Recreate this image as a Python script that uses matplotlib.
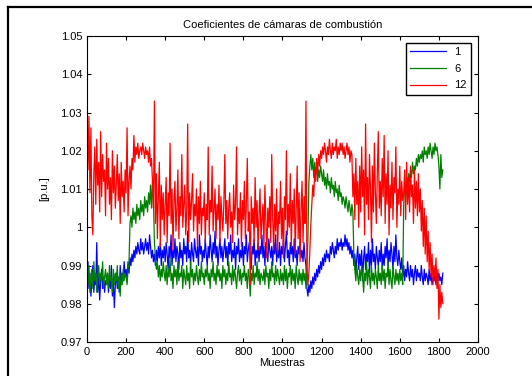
import matplotlib.pyplot as plt
from matplotlib.lines import Line2D
import numpy as np

plt.rcParams['font.family'] = ['Liberation Sans', 'DejaVu Sans']

# muestras (cada 5)
samples = np.arange(0, 1821, 5)

# Camara 1
cam1 = [
    0.987, 0.991, 0.984, 0.988, 0.982, 0.986, 0.990, 0.983, 0.987, 0.985, 0.996, 0.983, 0.988, 0.981, 0.986, 0.989, 0.984, 0.987, 0.983, 0.986,
    0.985, 0.988, 0.983, 0.987, 0.984, 0.990, 0.982, 0.986, 0.979, 0.985, 0.988, 0.984, 0.987, 0.983, 0.990, 0.985, 0.988, 0.986, 0.991, 0.987,
    0.989, 0.986, 0.991, 0.988, 0.992, 0.990, 0.993, 0.991, 0.994, 0.992, 0.995, 0.993, 0.996, 0.994, 0.993, 0.997, 0.994, 0.996, 0.993, 0.995,
    0.997, 0.994, 0.996, 0.993, 0.998, 0.995, 0.992, 0.994, 0.991, 0.993, 0.990, 0.994, 0.991, 0.995, 0.992, 0.996, 0.990, 0.994, 0.992, 0.995,
    0.991, 0.996, 0.993, 0.989, 0.995, 0.992, 0.998, 0.990, 0.994, 0.992, 0.997, 0.991, 0.995, 0.993, 0.989, 0.996, 0.992, 0.994, 0.990, 0.997,
    0.993, 0.995, 0.991, 0.999, 0.992, 0.994, 0.990, 0.996, 0.993, 0.991, 0.997, 0.994, 0.992, 0.995, 0.990, 0.998, 0.993, 0.995, 0.991, 0.994,
    0.992, 0.997, 0.993, 0.990, 0.995, 0.992, 0.998, 0.994, 0.991, 0.996, 0.993, 0.999, 0.992, 0.995, 0.990, 0.994, 0.997, 0.992, 0.995, 0.991,
    0.994, 0.997, 0.992, 0.995, 0.990, 0.996, 0.993, 0.998, 0.991, 0.994, 0.992, 0.996, 0.989, 0.995, 0.993, 0.997, 0.991, 0.994, 0.992, 0.996,
    0.990, 0.995, 0.993, 0.998, 0.991, 0.994, 0.996, 0.992, 0.989, 0.995, 0.993, 0.997, 0.990, 0.994, 0.992, 0.996, 0.991, 0.995, 0.993, 0.998,
    0.992, 0.995, 0.990, 0.996, 0.993, 0.991, 0.997, 0.994, 0.992, 0.995, 0.990, 0.996, 0.993, 0.998, 0.991, 0.994, 0.992, 0.996, 0.990, 0.995,
    0.993, 0.997, 0.991, 0.995, 0.999, 0.992, 0.994, 0.990, 0.996, 0.993, 0.995, 0.991, 0.997, 0.992, 0.994, 0.990, 0.995, 0.993, 0.996, 0.992,
    0.994, 0.991, 0.996, 0.992, 0.990, 0.984, 0.982, 0.985, 0.983, 0.986, 0.984, 0.987, 0.985, 0.988, 0.986, 0.989, 0.987, 0.990, 0.988, 0.991,
    0.989, 0.992, 0.990, 0.993, 0.991, 0.994, 0.992, 0.993, 0.991, 0.995, 0.993, 0.996, 0.994, 0.992, 0.995, 0.993, 0.997, 0.994, 0.996, 0.995,
    0.997, 0.994, 0.996, 0.995, 0.998, 0.995, 0.997, 0.994, 0.996, 0.993, 0.995, 0.992, 0.994, 0.990, 0.993, 0.988, 0.992, 0.995, 0.989, 0.993,
    0.990, 0.994, 0.986, 0.992, 0.995, 0.989, 0.993, 0.991, 0.996, 0.988, 0.994, 0.990, 0.997, 0.991, 0.993, 0.989, 0.995, 0.992, 0.990, 0.994,
    0.991, 0.996, 0.989, 0.993, 0.990, 0.995, 0.992, 0.997, 0.990, 0.994, 0.991, 0.996, 0.993, 0.989, 0.995, 0.991, 0.998, 0.992, 0.990, 0.994,
    0.991, 0.989, 0.992, 0.987, 0.990, 0.986, 0.989, 0.987, 0.991, 0.988, 0.986, 0.990, 0.987, 0.989, 0.985, 0.988, 0.990, 0.986, 0.989, 0.987,
    0.988, 0.986, 0.990, 0.987, 0.985, 0.989, 0.986, 0.988, 0.987, 0.985, 0.989, 0.986, 0.988, 0.985, 0.987, 0.986, 0.988, 0.985, 0.987, 0.986,
    0.988, 0.986, 0.987, 0.985, 0.988,
]

# Camara 6
cam6 = [
    0.988, 0.985, 0.990, 0.983, 0.987, 0.989, 0.984, 0.991, 0.986, 0.988, 0.983, 0.987, 0.990, 0.985, 0.988, 0.986, 0.991, 0.984, 0.987, 0.989,
    0.985, 0.988, 0.984, 0.990, 0.986, 0.987, 0.983, 0.989, 0.985, 0.988, 0.986, 0.990, 0.984, 0.987, 0.982, 0.988, 0.985, 0.989, 0.986, 0.988,
    0.987, 0.985, 0.989, 0.991, 1.001, 1.003, 1.000, 1.005, 1.002, 1.004, 1.001, 1.006, 1.003, 1.005, 1.002, 1.007, 1.004, 1.006, 1.003, 1.008,
    1.005, 1.007, 1.004, 1.009, 1.006, 1.011, 1.005, 1.012, 1.007, 0.996, 0.992, 0.989, 0.991, 0.987, 0.990, 0.986, 0.989, 0.987, 0.991, 0.988,
    0.986, 0.990, 0.985, 0.989, 0.987, 0.992, 0.986, 0.988, 0.984, 0.990, 0.987, 0.989, 0.985, 0.991, 0.986, 0.988, 0.987, 0.990, 0.984, 0.989,
    0.987, 0.985, 0.990, 0.986, 0.988, 0.984, 0.991, 0.987, 0.989, 0.985, 0.988, 0.986, 0.990, 0.987, 0.985, 0.989, 0.986, 0.991, 0.987, 0.988,
    0.985, 0.989, 0.987, 0.990, 0.986, 0.988, 0.984, 0.989, 0.987, 0.991, 0.986, 0.988, 0.985, 0.990, 0.987, 0.989, 0.986, 0.988, 0.984, 0.990,
    0.987, 0.989, 0.985, 0.988, 0.986, 0.991, 0.987, 0.988, 0.985, 0.990, 0.986, 0.989, 0.987, 0.984, 0.988, 0.990, 0.986, 0.989, 0.985, 0.988,
    0.987, 0.990, 0.986, 0.988, 0.984, 0.989, 0.987, 0.982, 0.988, 0.986, 0.990, 0.985, 0.988, 0.987, 0.991, 0.986, 0.989, 0.985, 0.988, 0.987,
    0.986, 0.989, 0.985, 0.990, 0.987, 0.988, 0.984, 0.989, 0.986, 0.991, 0.987, 0.988, 0.985, 0.990, 0.986, 0.989, 0.987, 0.985, 0.989, 0.986,
    0.988, 0.985, 0.990, 0.986, 0.989, 0.984, 0.988, 0.987, 0.990, 0.985, 0.989, 0.986, 0.988, 0.984, 0.990, 0.987, 0.985, 0.989, 0.986, 0.988,
    0.985, 0.989, 0.986, 0.988, 0.984, 0.990, 0.997, 1.012, 1.016, 1.019, 1.015, 1.018, 1.013, 1.017, 1.014, 1.016, 1.012, 1.015, 1.013, 1.016,
    1.014, 1.012, 1.015, 1.011, 1.013, 1.010, 1.014, 1.011, 1.012, 1.009, 1.013, 1.010, 1.011, 1.008, 1.012, 1.009, 1.010, 1.007, 1.011, 1.008,
    1.009, 1.006, 1.008, 1.007, 1.005, 1.008, 1.006, 1.004, 1.007, 1.005, 1.003, 1.006, 1.004, 0.993, 0.989, 0.986, 0.990, 0.987, 0.985, 0.989,
    0.986, 0.990, 0.987, 0.983, 0.988, 0.986, 0.991, 0.985, 0.989, 0.987, 0.984, 0.990, 0.986, 0.988, 0.985, 0.989, 0.987, 0.984, 0.990, 0.986,
    0.988, 0.985, 0.990, 0.986, 0.989, 0.984, 0.988, 0.987, 0.991, 0.985, 0.989, 0.986, 0.984, 0.990, 0.987, 0.985, 0.989, 0.986, 0.988, 0.985,
    0.989, 0.986, 0.988, 0.985, 1.006, 1.011, 1.009, 1.013, 1.010, 1.014, 1.012, 1.015, 1.013, 1.017, 1.014, 1.016, 1.015, 1.018, 1.016, 1.019,
    1.017, 1.019, 1.018, 1.020, 1.017, 1.021, 1.019, 1.020, 1.018, 1.021, 1.019, 1.022, 1.020, 1.018, 1.021, 1.019, 1.022, 1.020, 1.021, 1.019,
    1.016, 1.010, 1.019, 1.013, 1.015,
]

# Camara 12
cam12 = [
    1.024, 1.015, 1.029, 1.009, 1.026, 1.003, 0.998, 1.014, 1.021, 1.006, 1.023, 1.011, 1.017, 1.004, 1.025, 1.008, 1.019, 1.012, 1.015, 1.003,
    1.022, 1.010, 1.018, 1.006, 1.013, 1.002, 1.020, 1.009, 1.016, 1.005, 1.011, 1.019, 1.007, 1.014, 1.001, 1.017, 1.008, 1.012, 1.004, 1.015,
    1.009, 1.026, 1.003, 1.012, 1.016, 1.010, 1.018, 1.015, 1.024, 1.017, 1.021, 1.019, 1.022, 1.018, 1.020, 1.021, 1.019, 1.022, 1.020, 1.018,
    1.021, 1.019, 1.020, 1.017, 1.021, 1.016, 1.018, 1.012, 1.005, 1.033, 1.001, 1.014, 0.997, 1.008, 1.017, 0.995, 1.011, 1.002, 1.009, 0.998,
    1.006, 1.013, 0.996, 1.009, 1.003, 1.022, 1.001, 1.010, 0.994, 1.007, 1.012, 0.999, 1.005, 1.015, 0.997, 1.008, 1.003, 1.019, 1.000, 1.006,
    1.011, 0.998, 1.004, 1.027, 0.996, 1.009, 1.002, 1.007, 1.014, 0.999, 1.006, 1.003, 1.010, 0.995, 1.008, 1.001, 1.012, 0.998, 1.005, 1.003,
    1.009, 0.996, 1.006, 1.002, 1.021, 0.998, 1.007, 1.004, 1.016, 0.999, 1.005, 1.010, 0.997, 1.006, 1.002, 1.011, 0.996, 1.008, 1.003, 0.999,
    1.006, 1.019, 1.001, 1.007, 0.997, 1.005, 1.009, 1.000, 1.004, 0.996, 1.011, 1.002, 1.006, 1.021, 0.998, 1.005, 1.001, 1.009, 0.995, 1.007,
    1.002, 1.012, 0.997, 1.006, 1.018, 0.999, 1.004, 0.985, 1.008, 1.001, 1.005, 0.996, 1.013, 1.000, 1.007, 0.994, 1.003, 1.010, 0.997, 1.002,
    1.006, 0.995, 1.011, 1.001, 0.992, 1.005, 1.000, 1.008, 0.996, 1.019, 1.002, 0.994, 1.006, 0.999, 1.010, 0.993, 1.004, 1.001, 1.012, 0.997,
    1.005, 0.992, 1.008, 1.002, 1.020, 0.998, 1.006, 1.000, 1.014, 0.995, 1.007, 1.001, 1.010, 0.993, 1.004, 1.016, 0.997, 1.009, 0.991, 1.005,
    1.012, 0.996, 1.008, 1.001, 1.033, 0.990, 0.985, 0.988, 0.994, 1.001, 1.006, 1.011, 1.008, 1.015, 1.012, 1.018, 1.014, 1.019, 1.016, 1.020,
    1.018, 1.021, 1.019, 1.022, 1.020, 1.017, 1.021, 1.019, 1.023, 1.020, 1.018, 1.022, 1.019, 1.021, 1.020, 1.023, 1.018, 1.021, 1.019, 1.022,
    1.020, 1.022, 1.019, 1.021, 1.018, 1.020, 1.022, 1.019, 1.021, 1.017, 1.020, 1.019, 1.008, 1.014, 1.002, 1.018, 1.006, 1.012, 1.000, 1.016,
    1.004, 1.021, 1.008, 1.015, 0.998, 1.027, 1.006, 1.013, 1.002, 1.019, 1.010, 0.996, 1.016, 1.004, 1.022, 1.009, 1.001, 1.014, 1.025, 1.005,
    1.012, 1.003, 1.018, 1.008, 1.024, 1.001, 1.014, 1.006, 1.020, 0.998, 1.011, 1.005, 1.017, 1.002, 1.013, 1.009, 1.021, 1.000, 1.010, 1.006,
    1.016, 1.003, 1.012, 1.007, 1.009, 1.015, 1.002, 1.017, 1.006, 1.013, 1.004, 1.016, 1.008, 1.011, 1.001, 1.015, 1.005, 1.012, 1.003, 1.014,
    1.004, 1.010, 0.999, 1.007, 0.995, 1.005, 0.993, 1.003, 0.991, 0.999, 0.989, 0.996, 0.987, 0.993, 0.985, 0.990, 0.986, 0.992, 0.984, 0.989,
    0.976, 0.985, 0.979, 0.983, 0.980,
]

xticks = np.arange(0, 2001, 200)
yticks = [0.97, 0.98, 0.99, 1.00, 1.01, 1.02, 1.03, 1.04, 1.05]
ytick_labels = ['0.97', '0.98', '0.99', '1', '1.01', '1.02', '1.03', '1.04', '1.05']

fig = plt.figure(figsize=(5.32, 3.76), dpi=100)
ax = fig.add_axes([0.1635, 0.0904, 0.735, 0.8138])

ax.plot(samples, cam1, color=(0, 0, 1), lw=0.9, label='1')
ax.plot(samples, cam6, color=(0, 0.5, 0), lw=0.9, label='6')
ax.plot(samples, cam12, color=(1, 0, 0), lw=0.9, label='12')

ax.set_xlim(0, 2000)
ax.set_ylim(0.97, 1.05)
ax.set_xticks(xticks)
ax.set_yticks(yticks)
ax.set_yticklabels(ytick_labels)
ax.tick_params(direction='in', top=True, right=True, labelsize=8, length=3, width=0.8)
for s in ax.spines.values():
    s.set_linewidth(0.8)

ax.set_title('Coeficientes de cámaras de combustión', fontsize=8, pad=6)
ax.set_xlabel('Muestras', fontsize=8, labelpad=1)
ax.set_ylabel('[p.u.]', fontsize=8, labelpad=8)

leg = ax.legend(loc='upper right', fontsize=8, fancybox=False, edgecolor='black',
                framealpha=1, handlelength=3.2, borderaxespad=0.6, labelspacing=0.6)
leg.get_frame().set_linewidth(1.0)

# marco de la figura (solo izquierda y arriba visibles)
x0 = 7.5 / 532
y0 = 1 - 6.5 / 376
fig.add_artist(Line2D([x0, x0], [0, y0], transform=fig.transFigure, color='black', lw=1.6))
fig.add_artist(Line2D([x0, 1], [y0, y0], transform=fig.transFigure, color='black', lw=1.6))

fig.savefig('out.png', dpi=100)
